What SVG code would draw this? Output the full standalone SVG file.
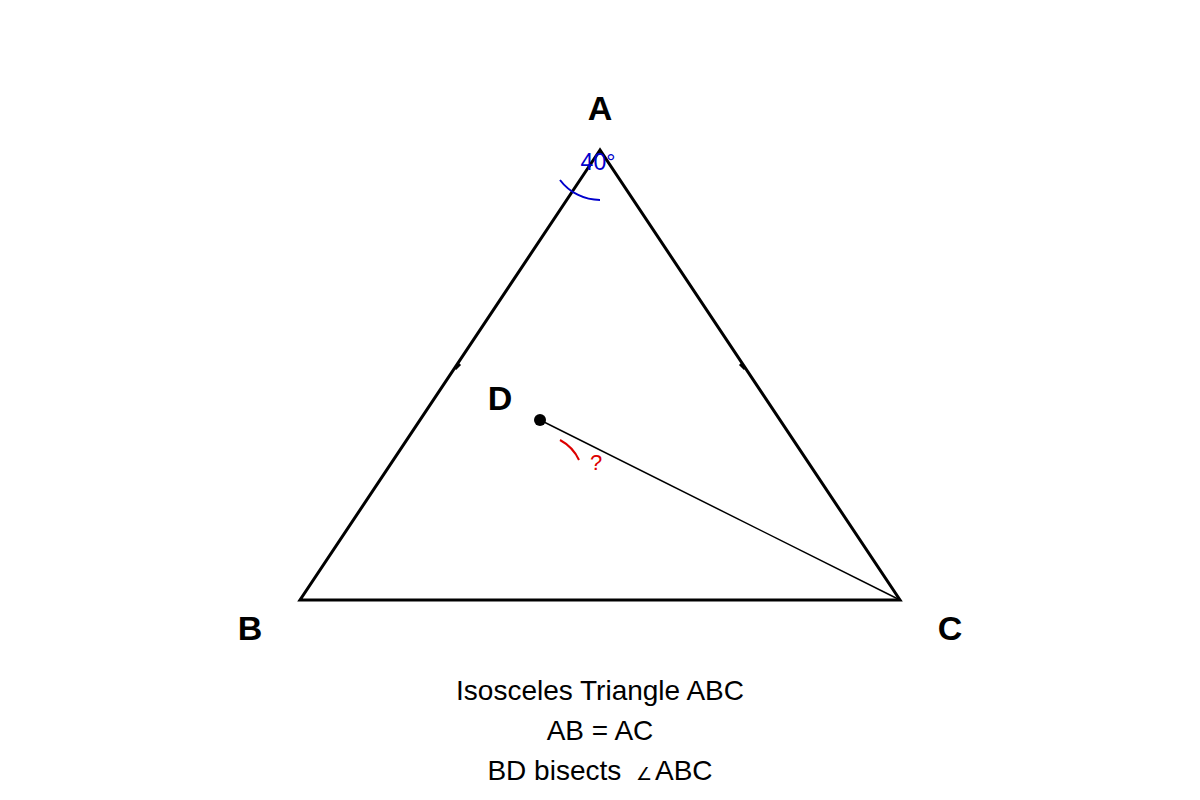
<svg xmlns="http://www.w3.org/2000/svg" width="1200" height="800" viewBox="0 0 1200 800">
<style>
.lbl{font-family:"Liberation Sans",Arial,sans-serif;font-weight:bold;font-size:34px;fill:#000;text-anchor:middle}
.cap{font-family:"Liberation Sans",Arial,sans-serif;font-size:28px;fill:#000;text-anchor:middle}
.side{stroke:#000;stroke-width:3;fill:none}
</style>
<rect width="1200" height="800" fill="#fff"/>
<g id="triangle">
<polygon class="side" points="600,150 300,600 900,600" stroke-linejoin="miter"/>
<line x1="455" y1="369" x2="460" y2="364" stroke="#000" stroke-width="3"/>
<line x1="745" y1="369" x2="740" y2="364" stroke="#000" stroke-width="3"/>
</g>
<g id="connectors">
<line x1="540" y1="420" x2="900" y2="600" stroke="#000" stroke-width="1.5"/>
</g>
<g id="A"><text class="lbl" x="600" y="120">A</text></g>
<g id="B"><text class="lbl" x="250" y="640">B</text></g>
<g id="C"><text class="lbl" x="950" y="640">C</text></g>
<g id="D"><circle cx="540" cy="420" r="6" fill="#000"/><text class="lbl" x="500" y="410">D</text></g>
<g id="angleA">
<path d="M560,180 A50,50 0 0 0 600,200" fill="none" stroke="#0000cc" stroke-width="2"/>
<text x="598" y="170" font-family="Liberation Sans,Arial,sans-serif" font-size="23" fill="#0000cc" text-anchor="middle">40°</text>
</g>
<g id="angleD">
<path d="M560,440 Q573,447 579,460" fill="none" stroke="#dd0000" stroke-width="2"/>
<text x="596" y="470" font-family="Liberation Sans,Arial,sans-serif" font-size="22" fill="#dd0000" text-anchor="middle">?</text>
</g>
<g id="caption">
<text class="cap" x="600" y="700">Isosceles Triangle ABC</text>
<text class="cap" x="600" y="740">AB = AC</text>
<text class="cap" x="600" y="780">BD bisects <tspan font-size="18" dx="7">∠</tspan><tspan dx="3">ABC</tspan></text>
</g>
</svg>
